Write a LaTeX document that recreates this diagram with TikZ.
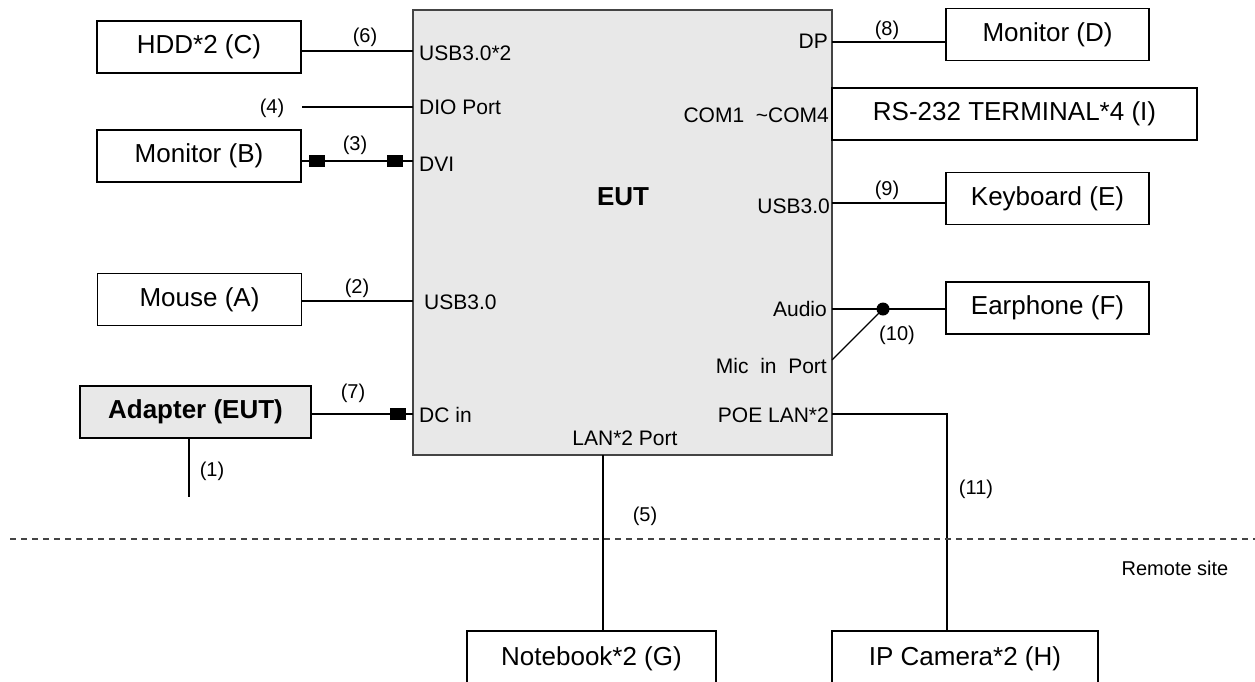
\documentclass[tikz,border=0pt]{standalone}
\usepackage{fontspec}
\setmainfont{Liberation Sans}
\definecolor{eutgray}{HTML}{E8E8E8}
\definecolor{edgegray}{HTML}{444444}
\tikzset{
  dev/.style={draw=black, line width=1.3pt, fill=white, minimum height=52pt, minimum width=204pt, inner sep=0pt, font=\fontsize{26}{30}\selectfont},
  port/.style={inner sep=0pt, font=\fontsize{21}{25}\selectfont},
  num/.style={inner sep=0pt, font=\fontsize{20}{24}\selectfont},
  wire/.style={draw=black, line width=1.1pt},
  plug/.style={draw=none, fill=black, minimum width=16pt, minimum height=12pt, inner sep=0pt},
}
\begin{document}
\begin{tikzpicture}[x=1pt, y=-1pt]
\clip (0,0) rectangle (1255,681);
\fill[white] (0,0) rectangle (1255,681);

% EUT box
\node[draw=edgegray, line width=1.5pt, fill=eutgray, minimum width=419pt, minimum height=445pt, inner sep=0pt] (eut) at (622.5,232.5) {};
\node[inner sep=0pt, font=\fontsize{26}{30}\selectfont\bfseries] (eutlbl) at (623,197) {EUT};

% devices
\node[dev] (C) at (199,47) {HDD*2 (C)};
\node[dev] (B) at (199,156) {Monitor (B)};
\node[dev] (A) at (199.5,299.5) {Mouse (A)};
\node[dev, fill=eutgray, minimum width=231pt, font=\fontsize{26}{30}\selectfont\bfseries] (ad) at (195.5,412) {Adapter (EUT)};
\node[dev, minimum width=203pt] (D) at (1047.5,34.5) {Monitor (D)};
\node[dev, minimum width=365pt] (I) at (1014.5,114) {RS-232 TERMINAL*4 (I)};
\node[dev, minimum width=203pt] (E) at (1047.5,198.5) {Keyboard (E)};
\node[dev, minimum width=203pt] (F) at (1047.5,308) {Earphone (F)};
\node[dev, minimum width=249pt, minimum height=56pt] (G) at (591.5,659) {Notebook*2 (G)};
\node[dev, minimum width=266pt, minimum height=56pt] (H) at (965,659) {IP Camera*2 (H)};

% port labels, left
\node[port, anchor=west] (l6) at (419,53) {USB3.0*2};
\node[port, anchor=west] (l4) at (419,107) {DIO Port};
\node[port, anchor=west] (l3) at (419,164) {DVI};
\node[port, anchor=west] (l2) at (424,302) {USB3.0};
\node[port, anchor=west] (l7) at (419,415) {DC in};
% port labels, right
\node[port, anchor=east] (r8) at (828,41) {DP};
\node[port, anchor=east] (ri) at (829,115) {COM1\ \ \textasciitilde COM4};
\node[port, anchor=east] (r9) at (830,206) {USB3.0};
\node[port, anchor=east] (r10) at (827,309) {Audio};
\node[port, anchor=east] (rmic) at (827,366) {Mic\ \ in\ \ Port};
\node[port, anchor=east] (r11) at (829,415) {POE LAN*2};
\node[port] (r5) at (625,438) {LAN*2 Port};

% connection points on EUT
\coordinate (p6) at (413,51);
\coordinate (p4) at (413,107);
\coordinate (p3) at (413,161);
\coordinate (p2) at (413,301);
\coordinate (p7) at (413,414);
\coordinate (p8) at (832,42);
\coordinate (p9) at (832,203);
\coordinate (p10) at (832,309);
\coordinate (pmic) at (832,360);
\coordinate (p11) at (832,414);
\coordinate (p5) at (603,455);
\coordinate (e4) at (302,107);
\coordinate (e1) at (189,497);
\coordinate (bend11) at (947,414);

% wires
\draw[wire] (C.east |- p6) -- (p6);
\draw[wire] (e4) -- (p4);
\draw[wire] (B.east |- p3) -- (p3);
\draw[wire] (A.east |- p2) -- (p2);
\draw[wire] (ad.east |- p7) -- (p7);
\draw[wire] (ad.south -| e1) -- (e1);
\draw[wire] (p8) -- (D.west |- p8);
\draw[wire] (p9) -- (E.west |- p9);
\node[circle, fill=black, minimum size=13pt, inner sep=0pt] (dot) at (883,309) {};
\draw[wire] (p10) -- (F.west |- p10);
\draw[wire] (pmic) -- (dot.center);
\draw[wire] (p11) -- (bend11) -- (H.north -| bend11);
\draw[wire] (p5) -- (G.north -| p5);

% plugs
\node[plug] (s1) at (316.5,161) {};
\node[plug] (s2) at (395,161) {};
\node[plug] (s3) at (398,414) {};

% numbers
\node[num] (n6) at (365,37) {(6)};
\node[num] (n4) at (272,108) {(4)};
\node[num] (n3) at (355,145) {(3)};
\node[num] (n2) at (357,288) {(2)};
\node[num] (n7) at (353,393) {(7)};
\node[num] (n1) at (212,471) {(1)};
\node[num] (n8) at (887,30) {(8)};
\node[num] (n9) at (887,190) {(9)};
\node[num] (n10) at (897,335) {(10)};
\node[num] (n11) at (976,489) {(11)};
\node[num] (n5) at (645,516) {(5)};

% remote site
\draw[draw=edgegray, line width=1.3pt, dash pattern=on 6pt off 5pt] (10,539) -- (1255,539);
\node[num] (rs) at (1175,568) {Remote site};
\end{tikzpicture}
\end{document}
